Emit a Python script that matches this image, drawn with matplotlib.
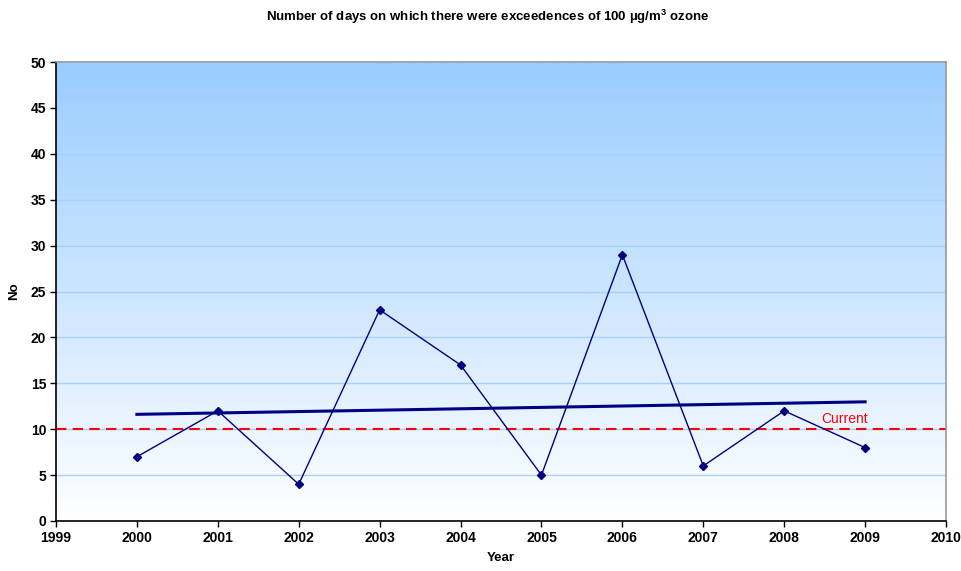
import numpy as np
import matplotlib
matplotlib.use("Agg")
import matplotlib.pyplot as plt
from matplotlib.colors import LinearSegmentedColormap

plt.rcParams['font.family'] = ['Liberation Sans', 'DejaVu Sans']
plt.rcParams['mathtext.fontset'] = 'custom'
plt.rcParams['mathtext.rm'] = 'Liberation Sans:bold'
plt.rcParams['mathtext.bf'] = 'Liberation Sans:bold'

years = [2000, 2001, 2002, 2003, 2004, 2005, 2006, 2007, 2008, 2009]
days = [7, 12, 4, 23, 17, 5, 29, 6, 12, 8]
current_limit = 10
current_label = "Current"
title = r"Number of days on which there were exceedences of 100 µg/m$^\mathrm{3}$ ozone"
xlabel = "Year"
ylabel = "No"

fig = plt.figure(figsize=(9.62, 5.71), dpi=100)
ax = fig.add_axes([56/962, 1-521/571, (946-56)/962, (521-62)/571])

ax.set_xlim(1999, 2010)
ax.set_ylim(0, 50)

# gradient background
cmap = LinearSegmentedColormap.from_list("bg", ["#ffffff", "#99ccff"])
grad = np.linspace(0, 1, 256).reshape(-1, 1)
ax.imshow(grad, aspect='auto', cmap=cmap, origin='lower',
          extent=[1999, 2010, 0, 50], zorder=0)

for y in range(5, 50, 5):
    ax.axhline(y, color="#a8d0f5", lw=1.0, zorder=1)

ax.axhline(current_limit, color="#ff0000", lw=1.5, ls=(0, (5, 3)), zorder=2)
ax.text(2008.75, current_limit + 0.4, current_label, color="#ff0000",
        fontsize=10, ha='center', va='bottom', zorder=3)

coef = np.polyfit(years, days, 1)
tx = np.array([years[0], years[-1]])
ax.plot(tx, np.polyval(coef, tx), color="#000080", lw=2.2, zorder=3)

ax.plot(years, days, color="#000080", lw=1.0, marker='D', markersize=4.5,
        zorder=4)

ax.set_xticks(range(1999, 2011))
ax.set_yticks(range(0, 51, 5))
for lab in ax.get_xticklabels() + ax.get_yticklabels():
    lab.set_fontweight('bold')
    lab.set_fontsize(10)
ax.tick_params(direction='out', length=4, width=1, color='black', pad=3)

for s in ['top', 'right']:
    ax.spines[s].set_color('#999999')
    ax.spines[s].set_linewidth(1.2)
for s in ['left', 'bottom']:
    ax.spines[s].set_color('black')
    ax.spines[s].set_linewidth(1.2)

ax.set_xlabel(xlabel, fontweight='bold', fontsize=9.5, labelpad=5)
ax.set_ylabel(ylabel, fontweight='bold', fontsize=9.5, labelpad=8)
fig.text(488/962, 1-17/571, title, ha='center', va='center',
         fontweight='bold', fontsize=9.5)

fig.savefig("out.png", dpi=100)
